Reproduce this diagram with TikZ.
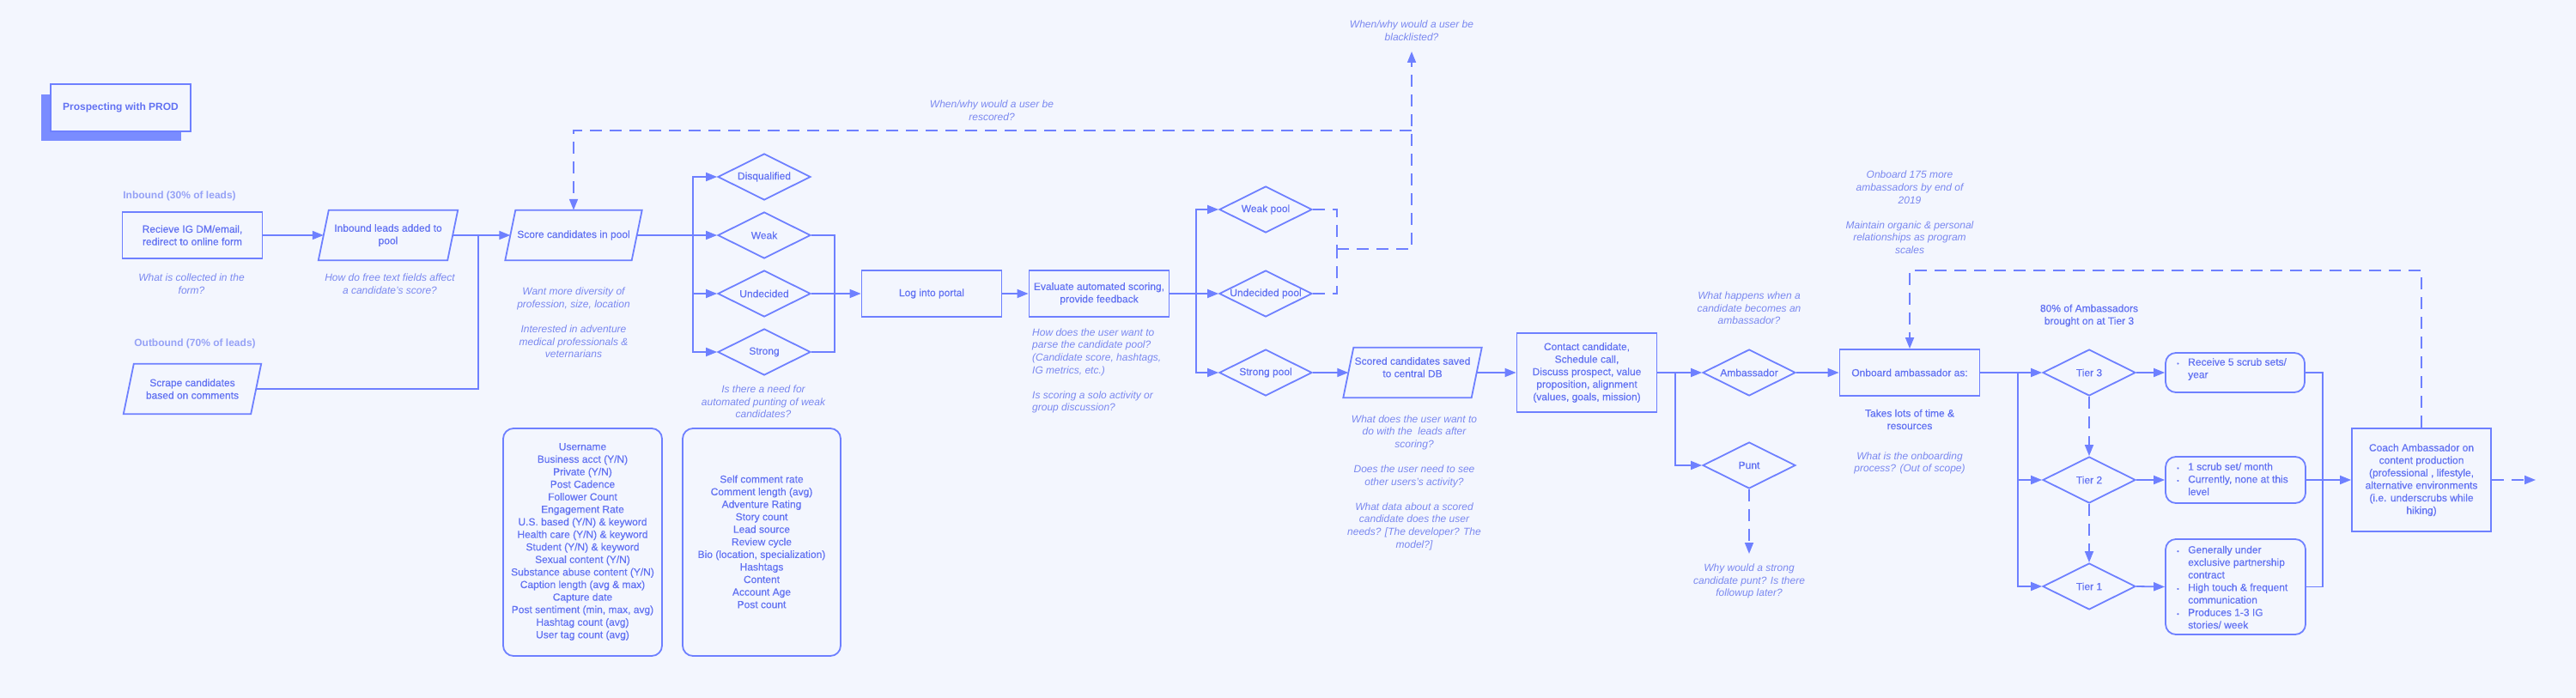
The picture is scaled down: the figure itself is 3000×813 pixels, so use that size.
\documentclass[tikz,border=0pt]{standalone}
\usepackage{fontspec}
\setmainfont{Liberation Sans}
\newfontfamily\medfont[FakeBold=0.5]{Liberation Sans}
\usetikzlibrary{arrows.meta,shapes.geometric}
\definecolor{bg}{RGB}{243,246,254}
\definecolor{lc}{RGB}{110,128,255}
\definecolor{nt}{RGB}{98,114,242}
\definecolor{qt}{RGB}{122,136,240}
\definecolor{lt}{RGB}{150,162,246}
\definecolor{sh}{RGB}{122,140,255}
\newcommand\mypgram[1]{\draw[ln] ([xshift=6pt]#1.north west) -- ([xshift=6pt]#1.north east) -- ([xshift=-6pt]#1.south east) -- ([xshift=-6pt]#1.south west) -- cycle;}
\newcommand\bul{\makebox[13pt][l]{\fontsize{7pt}{7pt}\selectfont\textbullet}}
\newcommand\ind{\hspace*{13pt}}
\tikzset{
  every node/.style={font=\fontsize{12pt}{14.6pt}\selectfont\medfont},
  ln/.style={draw=lc, line width=1.8pt},
  arr/.style={ln, -{Triangle[length=13pt,width=10pt]}},
  dsh/.style={ln, dash pattern=on 14pt off 9pt},
  darr/.style={dsh, -{Triangle[length=13pt,width=10pt]}},
  box/.style={ln, rectangle, minimum width=163pt, minimum height=54pt, inner sep=0pt, text=nt, align=center},
  pg/.style={rectangle, minimum width=#1, minimum height=58pt, inner sep=0pt, text=nt, align=center},
  dia/.style={ln, diamond, aspect=2, minimum width=108pt, minimum height=54pt, inner sep=0pt},
  dlab/.style={text=nt},
  rbox/.style={ln, rectangle, rounded corners=12pt, inner sep=0pt},
  q/.style={text=qt, align=center, font=\fontsize{12pt}{14.6pt}\selectfont\rmfamily\itshape},
  plain/.style={text=nt, align=center},
  side/.style={text=lt, font=\fontsize{12pt}{14.6pt}\selectfont\rmfamily\bfseries},
}
\begin{document}
\begin{tikzpicture}[x=1pt,y=-1pt]
\fill[bg] (0,0) rectangle (3000,813);
\useasboundingbox (0,0) rectangle (3000,813);

% title
\fill[sh] (48,110) rectangle (211,164);
\node[ln, fill=bg, rectangle, minimum width=163pt, minimum height=55pt, inner sep=0pt, text=nt, font=\fontsize{12pt}{14.6pt}\selectfont\rmfamily\bfseries] (title) at (140.5,125.5) {Prospecting with PROD};

% side labels
\node[side] (inlab) at (209,228) {Inbound (30\% of leads)};
\node[side] (outlab) at (227,400) {Outbound (70\% of leads)};

% first column
\node[box] (recv) at (224,274) {Recieve IG DM/email,\\redirect to online form};
\node[pg=150pt] (inb) at (452,274) {Inbound leads added to\\pool};
\mypgram{inb}
\node[pg=148pt] (scrape) at (224,453) {Scrape candidates\\based on comments};
\mypgram{scrape}
\node[pg=147pt] (score) at (668,274) {Score candidates in pool};
\mypgram{score}

\node[q] (q1) at (223,331) {What is collected in the\\form?};
\node[q] (q2) at (454,331) {How do free text fields affect\\a candidate's score?};
\node[q] (q3) at (668,376) {Want more diversity of\\profession, size, location\\[14.6pt]Interested in adventure\\medical professionals \&\\veternarians};

% diamonds
\node[dia, label={[dlab]center:Disqualified}] (disq) at (890,206) {};
\node[dia, label={[dlab]center:Weak}] (weak) at (890,274) {};
\node[dia, label={[dlab]center:Undecided}] (undec) at (890,342) {};
\node[dia, label={[dlab]center:Strong}] (strong) at (890,410) {};
\node[q] (q4) at (889,468) {Is there a need for\\automated punting of weak\\candidates?};

% attribute lists
\node[rbox, minimum width=185pt, minimum height=265pt] (list1) at (678.5,631.5) {};
\node[plain] (list1t) at (678.5,631) {Username\\Business acct (Y/N)\\Private (Y/N)\\Post Cadence\\Follower Count\\Engagement Rate\\U.S. based (Y/N) \& keyword\\Health care (Y/N) \& keyword\\Student (Y/N) \& keyword\\Sexual content (Y/N)\\Substance abuse content (Y/N)\\Caption length (avg \& max)\\Capture date\\Post sentiment (min, max, avg)\\Hashtag count (avg)\\User tag count (avg)};
\node[rbox, minimum width=184pt, minimum height=265pt] (list2) at (887,631.5) {};
\node[plain] (list2t) at (887,631) {Self comment rate\\Comment length (avg)\\Adventure Rating\\Story count\\Lead source\\Review cycle\\Bio (location, specialization)\\Hashtags\\Content\\Account Age\\Post count};

% portal
\node[box] (login) at (1085,342) {Log into portal};
\node[box] (eval) at (1280,342) {Evaluate automated scoring,\\provide feedback};
\node[q, align=left, anchor=west, inner sep=0pt] (q7) at (1202,432) {How does the user want to\\parse the candidate pool?\\(Candidate score, hashtags,\\IG metrics, etc.)\\[14.6pt]Is scoring a solo activity or\\group discussion?};
\node[q] (q5) at (1155,129) {When/why would a user be\\rescored?};
\node[q] (q6) at (1644,36) {When/why would a user be\\blacklisted?};

% pools
\node[dia, label={[dlab]center:Weak pool}] (wpool) at (1474,244) {};
\node[dia, label={[dlab]center:Undecided pool}] (upool) at (1474,342) {};
\node[dia, label={[dlab]center:Strong pool}] (spool) at (1474,434) {};
\node[pg=149pt] (scored) at (1645,434) {Scored candidates saved\\to central DB\\[-2pt]};
\mypgram{scored}
\node[q] (q8) at (1647,562) {What does the user want to\\do with the \ leads after\\scoring?\\[14.6pt]Does the user need to see\\other users's activity?\\[14.6pt]What data about a scored\\candidate does the user\\needs? [The developer? The\\model?]};

\node[box, minimum height=92pt] (contact) at (1848,434) {Contact candidate,\\Schedule call,\\Discuss prospect, value\\proposition, alignment\\(values, goals, mission)};
\node[dia, label={[dlab]center:Ambassador}] (amb) at (2037,434) {};
\node[dia, label={[dlab]center:Punt}] (punt) at (2037,542) {};
\node[q] (q9) at (2037,359) {What happens when a\\candidate becomes an\\ambassador?};
\node[q] (q12) at (2037,677) {Why would a strong\\candidate punt? Is there\\followup later?};

\node[box] (onb) at (2224,434) {Onboard ambassador as:};
\node[q] (q10) at (2224,247.5) {Onboard 175 more\\ambassadors by end of\\2019\\[14.6pt]Maintain organic \& personal\\relationships as program\\scales};
\node[plain] (takes) at (2224,488.5) {Takes lots of time \&\\resources};
\node[q] (q11) at (2224,539.5) {What is the onboarding\\process? (Out of scope)};

% tiers
\node[plain] (eighty) at (2433,367.5) {80\% of Ambassadors\\brought on at Tier 3};
\node[dia, label={[dlab]center:Tier 3}] (tier3) at (2433,434) {};
\node[dia, label={[dlab]center:Tier 2}] (tier2) at (2433,559) {};
\node[dia, label={[dlab]center:Tier 1}] (tier1) at (2433,683) {};
\node[rbox, minimum width=162pt, minimum height=46pt] (t3b) at (2603,434) {};
\node[text=nt, align=left, anchor=west, inner sep=0pt] (t3t) at (2535,430) {\bul Receive 5 scrub sets/\\\ind year};
\node[rbox, minimum width=163pt, minimum height=54pt] (t2b) at (2603.5,559) {};
\node[text=nt, align=left, anchor=west, inner sep=0pt] (t2t) at (2535,558) {\bul 1 scrub set/ month\\\bul Currently, none at this\\\ind level};
\node[rbox, minimum width=163pt, minimum height=111pt] (t1b) at (2603.5,683.5) {};
\node[text=nt, align=left, anchor=west, inner sep=0pt] (t1t) at (2535,684) {\bul Generally under\\\ind exclusive partnership\\\ind contract\\\bul High touch \& frequent\\\ind communication\\\bul Produces 1-3 IG\\\ind stories/ week};

\node[box, minimum width=162pt, minimum height=120pt] (coach) at (2820,559) {Coach Ambassador on\\content production\\(professional , lifestyle,\\alternative environments\\(i.e. underscrubs while\\hiking)};

% coordinates
\coordinate (j1) at (557,274);
\coordinate (sbus) at (807,274);
\coordinate (rb) at (972,342);
\coordinate (pb) at (1393,342);
\coordinate (pj) at (1557,290);
\coordinate (bl) at (1644,60);
\coordinate (rj) at (1644,152);
\coordinate (cj) at (1951,434);
\coordinate (oj) at (2350,434);
\coordinate (cb) at (2705,559);
\coordinate (dtop) at (2224,315);
\coordinate (cout) at (2953,559);
\coordinate (pq) at (2037,645);

% connectors
\draw[arr] (recv.east) -- (inb.west);
\draw[arr] (inb.east) -- (score.west);
\draw[ln] (scrape.east) -| (j1);
\draw[arr] (score.east) -- (weak.west);
\draw[arr] (sbus) |- (disq.west);
\draw[arr] (sbus) |- (undec.west);
\draw[arr] (sbus) |- (strong.west);
\draw[ln] (weak.east) -| (rb);
\draw[ln] (strong.east) -| (rb);
\draw[arr] (undec.east) -- (login.west);
\draw[arr] (login.east) -- (eval.west);
\draw[arr] (eval.east) -- (upool.west);
\draw[arr] (pb) |- (wpool.west);
\draw[arr] (pb) |- (spool.west);
\draw[arr] (spool.east) -- (scored.west);
\draw[arr] (scored.east) -- (contact.west);
\draw[arr] (contact.east) -- (amb.west);
\draw[arr] (cj) |- (punt.west);
\draw[arr] (amb.east) -- (onb.west);
\draw[arr] (onb.east) -- (tier3.west);
\draw[arr] (oj) |- (tier2.west);
\draw[arr] (oj) |- (tier1.west);
\draw[arr] (tier3.east) -- (t3b.west);
\draw[arr] (tier2.east) -- (t2b.west);
\draw[arr] (tier1.east) -- (t1b.west);
\draw[darr] (tier3.south) -- (tier2.north);
\draw[darr] (tier2.south) -- (tier1.north);
\draw[ln] (t3b.east) -| (cb);
\draw[ln] (t1b.east) -| (cb);
\draw[arr] (t2b.east) -- (coach.west);
\draw[darr] (coach.north) |- (dtop) -- (onb.north);
\draw[darr] (coach.east) -- (cout);
\draw[darr] (punt.south) -- (pq);
\draw[dsh] (wpool.east) -| (pj);
\draw[dsh] (upool.east) -| (pj);
\draw[darr] (pj) -| (bl);
\draw[darr] (rj) -| (score.north);
\end{tikzpicture}
\end{document}
